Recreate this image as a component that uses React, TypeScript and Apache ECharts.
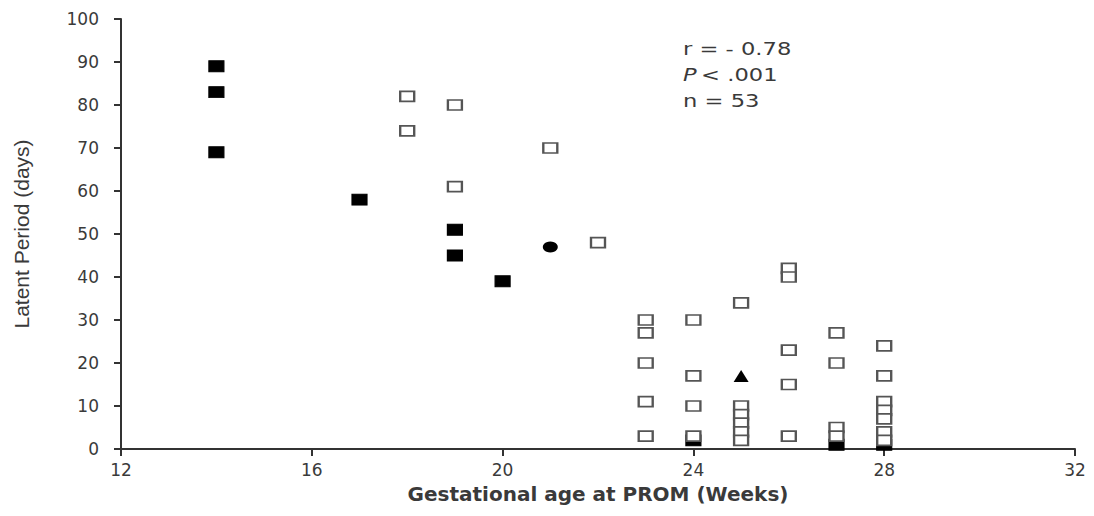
import React, { useEffect, useRef } from "react";
import * as echarts from "echarts";

// Gestational age (weeks) vs latent period (days)
const filledSquares: [number, number][] = [
  [14, 89], [14, 83], [14, 69], [17, 58], [19, 51], [19, 45], [20, 39],
  [24, 2], [27, 1], [28, 1],
];
const filledCircle: [number, number][] = [[21, 47]];
const filledTriangle: [number, number][] = [[25, 17]];
const openSquares: [number, number][] = [
  [18, 82], [18, 74],
  [19, 80], [19, 61],
  [21, 70],
  [22, 48],
  [23, 30], [23, 27], [23, 20], [23, 11], [23, 3],
  [24, 30], [24, 17], [24, 10], [24, 3],
  [25, 34], [25, 10], [25, 8], [25, 6], [25, 4], [25, 2],
  [26, 42], [26, 40], [26, 23], [26, 15], [26, 3],
  [27, 27], [27, 20], [27, 5], [27, 3],
  [28, 24], [28, 17], [28, 11], [28, 9], [28, 7], [28, 4], [28, 2],
];
const xTicks = { min: 12, max: 32, interval: 4 };
const yTicks = { min: 0, max: 100, interval: 10 };
const xTitle = "Gestational age at PROM (Weeks)";
const yTitle = "Latent Period (days)";
const statLines = ["r = - 0.78", "P < .001", "n = 53"];

const FONT = "'DejaVu Sans', 'Liberation Sans', Arial, sans-serif";
const AFONT = "'Liberation Sans', Arial, sans-serif";
const TXT = "#3a3a3a";

export default function App() {
  const ref = useRef<HTMLDivElement>(null);
  useEffect(() => {
    document.body.style.margin = "0";
    if (!ref.current) return;
    const chart = echarts.init(ref.current, undefined, { renderer: "svg" });
    const axisCommon = {
      axisLine: { show: true, onZero: false, lineStyle: { color: "#333", width: 2 } },
      axisTick: { show: true, inside: false, length: 7, lineStyle: { color: "#333", width: 2 } },
      splitLine: { show: false },
      axisLabel: { color: TXT, fontSize: 17, fontFamily: FONT },
    };
    chart.setOption({
      animation: false,
      backgroundColor: "#fff",
      grid: { left: 121, right: 19, top: 19, bottom: 67, containLabel: false },
      xAxis: {
        type: "value",
        ...xTicks,
        ...axisCommon,
        axisLabel: { ...axisCommon.axisLabel, margin: 12 },
        name: xTitle,
        nameLocation: "middle",
        nameGap: 35,
        nameTextStyle: { color: TXT, fontSize: 20, fontWeight: "bold", fontFamily: FONT },
      },
      yAxis: {
        type: "value",
        ...yTicks,
        ...axisCommon,
        axisLabel: { ...axisCommon.axisLabel, margin: 22 },
        name: yTitle,
        nameLocation: "middle",
        nameGap: 89,
        nameTextStyle: { color: TXT, fontSize: 21, fontFamily: AFONT },
      },
      series: [
        {
          type: "scatter",
          data: filledSquares,
          symbol: "rect",
          symbolSize: [15, 11],
          itemStyle: { color: "#000", borderColor: "#000", borderWidth: 1, opacity: 1 },
          z: 2,
        },
        {
          type: "scatter",
          data: openSquares,
          symbol: "rect",
          symbolSize: [14, 10],
          itemStyle: { color: "#fff", borderColor: "#555", borderWidth: 2, opacity: 1 },
          z: 3,
        },
        {
          type: "scatter",
          data: filledCircle,
          symbol: "circle",
          symbolSize: [15, 11],
          itemStyle: { color: "#000", opacity: 1 },
          z: 4,
        },
        {
          type: "scatter",
          data: filledTriangle,
          symbol: "triangle",
          symbolSize: [15, 12],
          itemStyle: { color: "#000", opacity: 1 },
          z: 4,
        },
      ],
      graphic: [
        {
          type: "text",
          x: 683,
          y: 41,
          scaleX: 1.33,
          style: { text: statLines[0], fill: TXT, font: `17px ${FONT}` },
        },
        {
          type: "text",
          x: 683,
          y: 67,
          scaleX: 1.33,
          style: {
            text: "{i|P} {n|" + statLines[1].slice(2) + "}",
            rich: {
              i: { fill: TXT, fontSize: 17, fontStyle: "italic", fontFamily: FONT },
              n: { fill: TXT, fontSize: 17, fontFamily: FONT },
            },
          },
        },
        {
          type: "text",
          x: 683,
          y: 93,
          scaleX: 1.33,
          style: { text: statLines[2], fill: TXT, font: `17px ${FONT}` },
        },
      ],
    });
    return () => chart.dispose();
  }, []);
  return <div ref={ref} style={{ width: 1094, height: 516, position: "fixed", left: 0, top: 0 }} />;
}
